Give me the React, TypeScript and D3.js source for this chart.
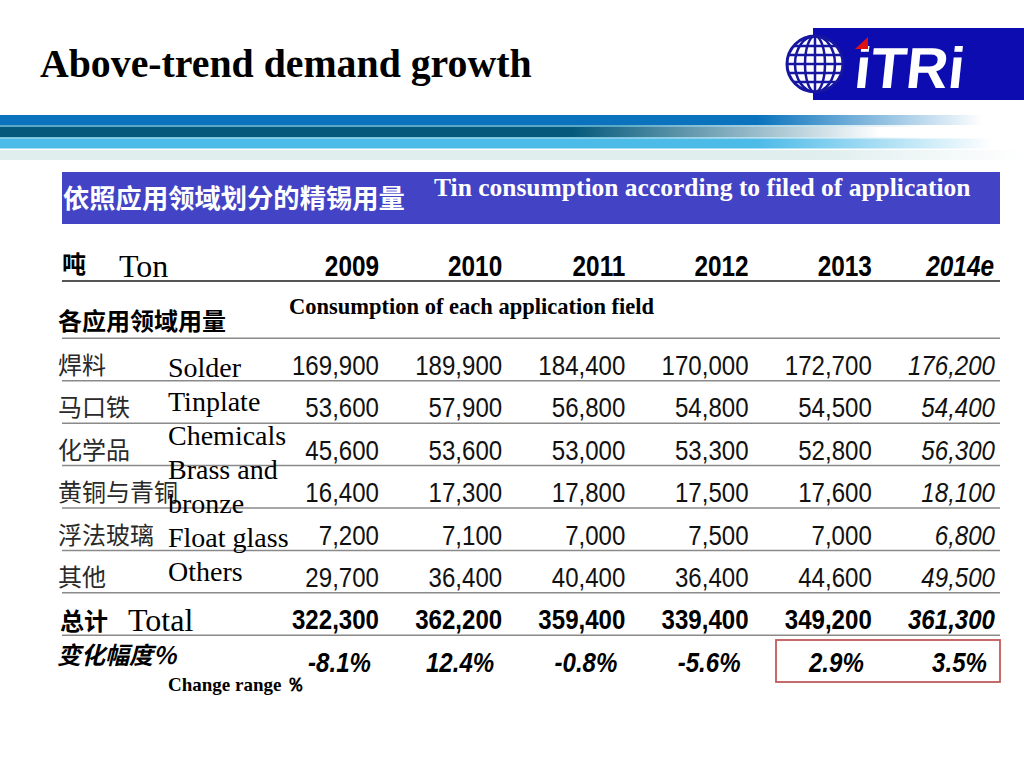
import React from "react";
import * as d3 from "d3";

const years = ["2009", "2010", "2011", "2012", "2013", "2014e"];
const categoriesCn = ["焊料", "马口铁", "化学品", "黄铜与青铜", "浮法玻璃", "其他"];
const categoriesEn = ["Solder", "Tinplate", "Chemicals", "Brass and", "bronze", "Float glass", "Others"];
const solder = [169900, 189900, 184400, 170000, 172700, 176200];
const tinplate = [53600, 57900, 56800, 54800, 54500, 54400];
const chemicals = [45600, 53600, 53000, 53300, 52800, 56300];
const brassBronze = [16400, 17300, 17800, 17500, 17600, 18100];
const floatGlass = [7200, 7100, 7000, 7500, 7000, 6800];
const others = [29700, 36400, 40400, 36400, 44600, 49500];
const totals = [322300, 362200, 359400, 339400, 349200, 361300];
const changePct = [-8.1, 12.4, -0.8, -5.6, 2.9, 3.5];

const series = [solder, tinplate, chemicals, brassBronze, floatGlass, others];

const SERIF = "'Liberation Serif', 'Times New Roman', serif";
const SANS = "'Liberation Sans', Arial, sans-serif";
const CJK = "'Noto Sans CJK SC', sans-serif";

const locale = d3.formatLocale({
  decimal: ".",
  thousands: ",",
  grouping: [3],
  currency: ["$", ""],
  minus: "-",
});

export default function App() {
  const W = 1024, H = 768;
  const colX = d3.scalePoint<string>().domain(years).range([379, 995]);
  const rowY = d3.scaleLinear().domain([0, 1]).range([375, 417.4]);
  const enY = d3.scaleLinear().domain([0, 1]).range([377, 411]);
  const fmt = locale.format(",");
  const fmtPct = (v: number) => locale.format(".1f")(v) + "%";
  const lineIdx = d3.range(0, 7);
  const stripes = [
    { y: 115, h: 10, c: "#0b73bd", fadeStart: 0.74, fadeEnd: 0.96 },
    { y: 125, h: 2, c: "#5aa8c8", fadeStart: 0.6, fadeEnd: 0.9 },
    { y: 127, h: 10, c: "#055a7c", fadeStart: 0.56, fadeEnd: 0.86 },
    { y: 137, h: 1.5, c: "#7cc4dc", fadeStart: 0.6, fadeEnd: 0.9 },
    { y: 138.5, h: 10, c: "#4dbbe8", fadeStart: 0.74, fadeEnd: 0.97 },
    { y: 150, h: 10, c: "#e0eeee", fadeStart: 0.8, fadeEnd: 1.0 },
  ];

  return (
    <svg width={W} height={H} style={{ display: "block", position: "absolute", left: 0, top: 0 }}>
      <defs>
        {stripes.map((s, i) => (
          <linearGradient key={i} id={`st${i}`} x1="0" x2="1" y1="0" y2="0">
            <stop offset="0" stopColor={s.c} stopOpacity={1} />
            <stop offset={s.fadeStart} stopColor={s.c} stopOpacity={1} />
            <stop offset={s.fadeEnd} stopColor={s.c} stopOpacity={0} />
          </linearGradient>
        ))}
        <clipPath id="globeClip">
          <circle cx={815} cy={64} r={28} />
        </clipPath>
      </defs>
      <rect x={0} y={0} width={W} height={H} fill="#ffffff" />

      {/* Title */}
      <text x={40} y={77} fontFamily={SERIF} fontWeight="bold" fontSize={39.8} fill="#000">
        Above-trend demand growth
      </text>

      {/* Logo */}
      <rect x={813} y={28} width={211} height={72} fill="#0c0cb0" />
      <g>
        <circle cx={815} cy={64} r={28} fill="#ffffff" />
        <g clipPath="url(#globeClip)" stroke="#1616a0" strokeWidth={2.5} fill="none">
          {[-18, -9, 0, 9, 18].map((dy) => (
            <line key={dy} x1={785} x2={845} y1={64 + dy} y2={64 + dy} />
          ))}
          <line x1={815} x2={815} y1={34} y2={94} />
          <ellipse cx={815} cy={64} rx={10} ry={28} />
          <ellipse cx={815} cy={64} rx={20} ry={28} />
        </g>
        <circle cx={815} cy={64} r={28} fill="none" stroke="#1616a0" strokeWidth={3} />
      </g>
      <text
        transform="translate(853,88) skewX(-6)"
        fontFamily={SANS}
        fontWeight="bold"
        fontSize={58}
        fill="#ffffff"
      >
        iTRi
      </text>
      <polygon points="855,49 868,37 868,49" fill="#e01010" />

      {/* Gradient stripes */}
      {stripes.map((s, i) => (
        <rect key={i} x={0} y={s.y} width={W} height={s.h} fill={`url(#st${i})`} />
      ))}

      {/* Header bar */}
      <rect x={62} y={172} width={938} height={52} fill="#4343c6" />
      <text x={63} y={208} fontFamily={CJK} fontWeight="bold" fontSize={26.3} fill="#ffffff">
        依照应用领域划分的精锡用量
      </text>
      <text x={434} y={196} fontFamily={SERIF} fontWeight="bold" fontSize={25.5} fill="#ffffff">
        Tin consumption according to filed of application
      </text>

      {/* Column headers */}
      <text x={62} y={273} fontFamily={CJK} fontWeight="bold" fontSize={24} fill="#000">吨</text>
      <text x={119} y={277} fontFamily={SERIF} fontSize={32} fill="#000">Ton</text>
      {years.map((y, i) => (
        <text
          key={y}
          transform={`translate(${(colX(y) as number) - (i === 5 ? 1 : 0)},276) scale(0.84,1)`}
          textAnchor="end"
          fontFamily={SANS}
          fontWeight="bold"
          fontStyle={i === 5 ? "italic" : "normal"}
          fontSize={29}
          fill="#000"
        >
          {y}
        </text>
      ))}
      <line x1={62} x2={1000} y1={281} y2={281} stroke="#555" strokeWidth={2.2} />

      <text x={58} y={330} fontFamily={CJK} fontWeight="bold" fontSize={24} fill="#000">各应用领域用量</text>
      <text x={289} y={314} fontFamily={SERIF} fontWeight="bold" fontSize={22.5} fill="#000">
        Consumption of each application field
      </text>

      {/* Row lines */}
      <line x1={62} x2={1000} y1={rowY(-1) + 5.6} y2={rowY(-1) + 5.6} stroke="#8a8a8a" strokeWidth={1.5} />
      {lineIdx.map((i) => (
        <line key={i} x1={62} x2={1000} y1={rowY(i) + 5.8} y2={rowY(i) + 5.8} stroke="#8a8a8a" strokeWidth={1.5} />
      ))}

      {/* Row labels Chinese */}
      {categoriesCn.map((c, i) => (
        <text key={c} x={58} y={rowY(i) - 1} fontFamily={CJK} fontSize={24} fill="#2a2a2a">
          {c}
        </text>
      ))}
      {/* Row labels English */}
      {categoriesEn.map((c, i) => (
        <text key={c} x={168} y={enY(i)} fontFamily={SERIF} fontSize={28} fill="#000">
          {c}
        </text>
      ))}

      {/* Values */}
      {series.map((vals, r) =>
        vals.map((v, c) => (
          <text
            key={`${r}-${c}`}
            transform={`translate(${colX(years[c]) as number},${rowY(r)}) scale(0.86,1)`}
            textAnchor="end"
            fontFamily={SANS}
            fontStyle={c === 5 ? "italic" : "normal"}
            fontSize={28}
            fill="#111"
          >
            {fmt(v)}
          </text>
        ))
      )}

      {/* Total */}
      <text x={60} y={630} fontFamily={CJK} fontWeight="bold" fontSize={24} fill="#000">总计</text>
      <text x={128} y={631} fontFamily={SERIF} fontSize={32} fill="#000">Total</text>
      {totals.map((v, c) => (
        <text
          key={`t${c}`}
          transform={`translate(${colX(years[c]) as number},${rowY(6)}) scale(0.86,1)`}
          textAnchor="end"
          fontFamily={SANS}
          fontWeight="bold"
          fontStyle={c === 5 ? "italic" : "normal"}
          fontSize={28}
          fill="#000"
        >
          {fmt(v)}
        </text>
      ))}

      {/* Change */}
      <text x={57} y={664} fontFamily={CJK} fontWeight="bold" fontStyle="italic" fontSize={24} fill="#000">变化幅度%</text>
      {changePct.map((v, c) => (
        <text
          key={`p${c}`}
          transform={`translate(${(colX(years[c]) as number) - 8},672) scale(0.86,1)`}
          textAnchor="end"
          fontFamily={SANS}
          fontWeight="bold"
          fontStyle="italic"
          fontSize={28}
          fill="#000"
        >
          {fmtPct(v)}
        </text>
      ))}
      <rect x={776} y={640} width={224} height={42} fill="none" stroke="#c05a5a" strokeWidth={1.8} />
      <text x={168} y={691} fontFamily={SERIF} fontWeight="bold" fontSize={19} fill="#000">
        Change range ％
      </text>
    </svg>
  );
}
